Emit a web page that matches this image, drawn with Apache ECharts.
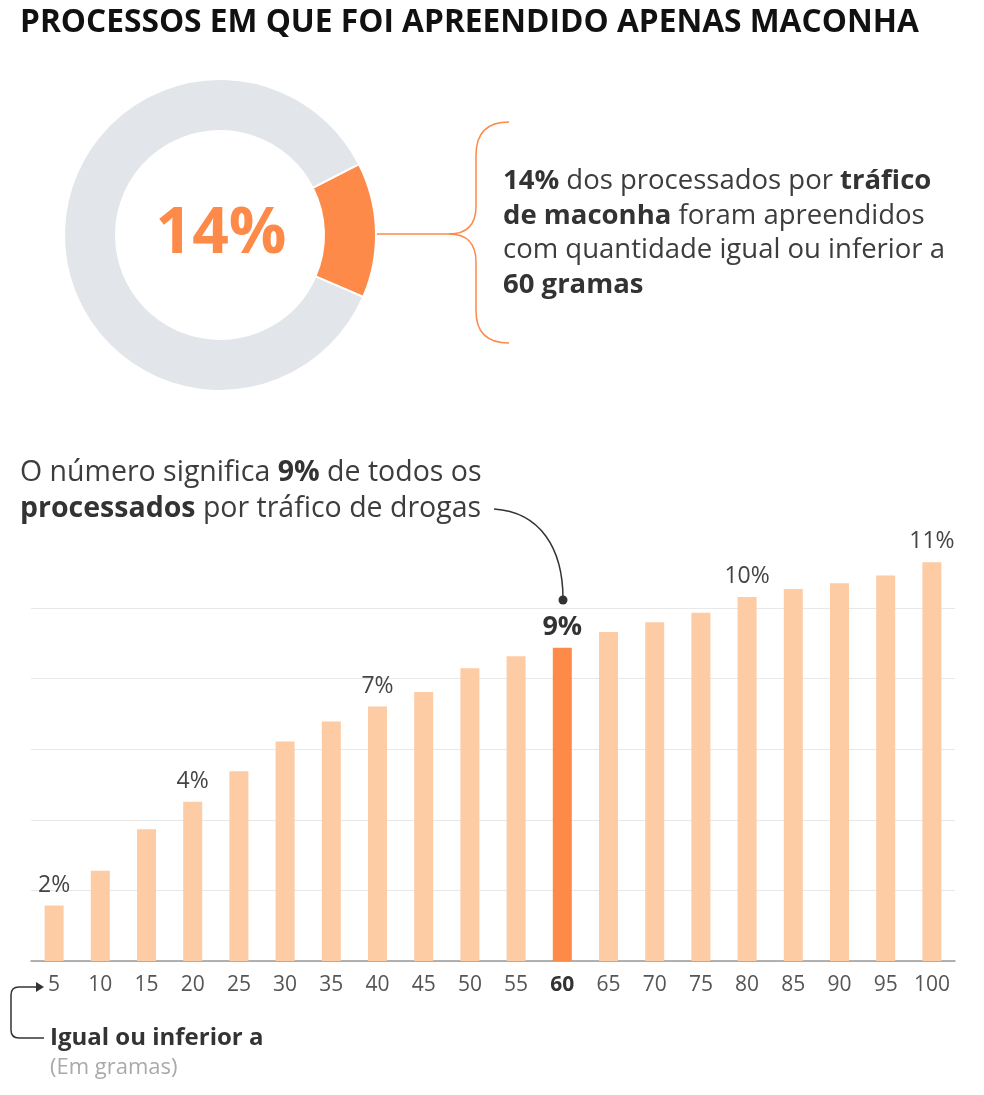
<!DOCTYPE html>
<html>
<head>
<meta charset="utf-8">
<script src="https://cdn.jsdelivr.net/npm/echarts@6/dist/echarts.min.js"></script>
<style>
html,body{margin:0;padding:0;background:#fff;}
#c{width:984px;height:1095px;}
</style>
</head>
<body>
<div id="c"></div>
<script>
// ---- data ----
var donutNames = ['Até 60 gramas', 'Demais'];
var donutValues = [14, 86];
var categories = ['5','10','15','20','25','30','35','40','45','50','55','60','65','70','75','80','85','90','95','100'];
var values = [1.52, 2.47, 3.61, 4.36, 5.20, 6.01, 6.56, 6.97, 7.37, 8.02, 8.35, 8.58, 9.01, 9.28, 9.54, 9.97, 10.19, 10.35, 10.56, 10.92];
var barLabels = ['2%','','','4%','','','','7%','','','','9%','','','','10%','','','','11%'];
var highlightCategory = '60';

var ORANGE = '#fd8a48';
var PEACH = '#fdcca5';
var GRAY = '#e2e6ea';
var FONT = 'Open Sans';

var chart = echarts.init(document.getElementById('c'), null, {renderer: 'canvas'});

var barData = values.map(function (v, i) {
  var hl = categories[i] === highlightCategory;
  return {
    value: v,
    itemStyle: {color: hl ? ORANGE : PEACH},
    label: {
      show: barLabels[i] !== '',
      formatter: barLabels[i],
      fontWeight: hl ? 'bold' : 'normal',
      fontSize: hl ? 27 : 23,
      distance: hl ? 7 : 9,
      color: hl ? '#333' : '#444'
    }
  };
});

function seg(x1, y1, x2, y2, color) {
  return {type: 'line', silent: true, shape: {x1: x1, y1: y1, x2: x2, y2: y2},
    style: {stroke: color, lineWidth: 1.5}};
}
function quad(x1, y1, cx, cy, x2, y2, color) {
  return {type: 'bezierCurve', silent: true,
    shape: {x1: x1, y1: y1, x2: x2, y2: y2, cpx1: cx, cpy1: cy},
    style: {stroke: color, lineWidth: 1.5, fill: null}};
}

var option = {
  animation: false,
  grid: {left: 31, right: 29, top: 608, bottom: 134},
  xAxis: {
    type: 'category',
    data: categories,
    axisTick: {show: false},
    axisLine: {lineStyle: {color: '#999', width: 1.5}},
    axisLabel: {
      interval: 0,
      hideOverlap: false,
      margin: 14,
      fontFamily: FONT,
      fontSize: 21,
      color: '#555',
      formatter: function (v) { return v === highlightCategory ? '{b|' + v + '}' : v; },
      rich: {b: {fontFamily: FONT, fontSize: 21, fontWeight: 'bold', color: '#333'}}
    }
  },
  yAxis: {
    type: 'value',
    min: 0,
    max: 9.67,
    interval: 1.934,
    axisLabel: {show: false},
    axisLine: {show: false},
    axisTick: {show: false},
    splitLine: {lineStyle: {color: '#e8e8e8', width: 1}}
  },
  series: [
    {
      type: 'pie',
      silent: true,
      center: [220, 235],
      radius: [104, 156],
      startAngle: 27,
      clockwise: true,
      label: {show: false},
      labelLine: {show: false},
      itemStyle: {borderColor: '#fff', borderWidth: 2},
      data: donutNames.map(function (n, i) {
        return {name: n, value: donutValues[i], itemStyle: {color: i === 0 ? ORANGE : GRAY}};
      })
    },
    {
      type: 'bar',
      silent: true,
      clip: false,
      barWidth: 19,
      label: {show: true, position: 'top', distance: 9, fontFamily: FONT},
      data: barData
    }
  ],
  graphic: [
    {
      type: 'text', x: 20, y: 23,
      style: {
        text: 'PROCESSOS EM QUE FOI APREENDIDO APENAS MACONHA',
        fontFamily: FONT, fontWeight: 'bold', fontSize: 31.7, fill: '#111',
        textVerticalAlign: 'middle'
      }
    },
    {
      type: 'text', x: 221, y: 235,
      style: {
        text: donutValues[0] + '%',
        fontFamily: FONT, fontWeight: 'bold', fontSize: 64, fill: ORANGE,
        textAlign: 'center', textVerticalAlign: 'middle'
      }
    },
    seg(376, 234, 449, 234, ORANGE),
    quad(509, 122, 476, 122, 476, 155, ORANGE),
    seg(476, 155, 476, 206, ORANGE),
    quad(476, 206, 476, 234, 449, 234, ORANGE),
    quad(449, 234, 476, 234, 476, 262, ORANGE),
    seg(476, 262, 476, 311, ORANGE),
    quad(476, 311, 476, 343, 509, 343, ORANGE),
    {
      type: 'text', x: 503, y: 164,
      style: {
        text: '{b|14%} dos processados por {b|tráfico}\n{b|de maconha} foram apreendidos\ncom quantidade igual ou inferior a\n{b|60 gramas}',
        fontFamily: FONT, fontSize: 27.5, fill: '#3d3d3d', lineHeight: 34.5,
        rich: {b: {fontFamily: FONT, fontSize: 27.5, fontWeight: 'bold', fill: '#333', lineHeight: 34.5}}
      }
    },
    {
      type: 'text', x: 20, y: 455,
      style: {
        text: 'O número significa {b|9%} de todos os\n{b|processados} por tráfico de drogas',
        fontFamily: FONT, fontSize: 28.5, fill: '#3d3d3d', lineHeight: 36,
        rich: {b: {fontFamily: FONT, fontSize: 28.5, fontWeight: 'bold', fill: '#333', lineHeight: 36}}
      }
    },
    {
      type: 'bezierCurve', silent: true,
      shape: {x1: 494, y1: 509, cpx1: 540, cpy1: 512, cpx2: 563, cpy2: 548, x2: 563, y2: 599},
      style: {stroke: '#333', lineWidth: 1.5, fill: null}
    },
    {
      type: 'circle', shape: {cx: 563, cy: 600, r: 4.5},
      style: {fill: '#333'}
    },
    seg(44, 1038, 19, 1038, '#333'),
    quad(19, 1038, 11, 1038, 11, 1030, '#333'),
    seg(11, 1030, 11, 995, '#333'),
    quad(11, 995, 11, 987, 19, 987, '#333'),
    seg(19, 987, 37, 987, '#333'),
    {
      type: 'polygon', shape: {points: [[36, 982], [44, 987], [36, 992]]},
      style: {fill: '#333'}
    },
    {
      type: 'text', x: 50, y: 1038,
      style: {
        text: 'Igual ou inferior a',
        fontFamily: FONT, fontWeight: 'bold', fontSize: 24, fill: '#333',
        textVerticalAlign: 'middle'
      }
    },
    {
      type: 'text', x: 50, y: 1068,
      style: {
        text: '(Em gramas)',
        fontFamily: FONT, fontSize: 22, fill: '#aaa',
        textVerticalAlign: 'middle'
      }
    }
  ]
};
chart.setOption(option);
</script>
</body>
</html>
